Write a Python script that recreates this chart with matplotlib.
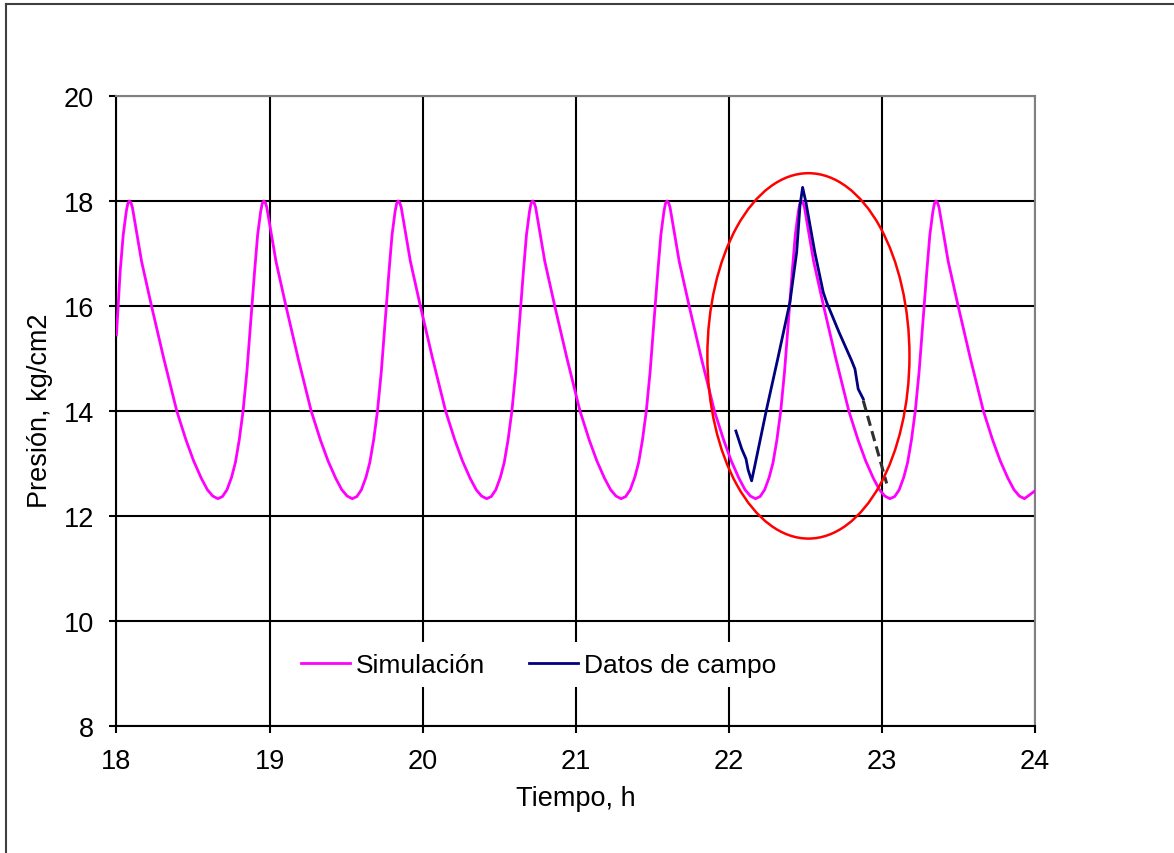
import matplotlib
matplotlib.use("Agg")
import matplotlib.pyplot as plt
from matplotlib.patches import Ellipse
from matplotlib.lines import Line2D

plt.rcParams['font.family'] = ['Liberation Sans', 'DejaVu Sans']

# Simulación (one row per cycle)
sim_t = [18.000, 18.024, 18.044, 18.064, 18.074, 18.084, 18.094, 18.104, 18.129, 18.164, 18.229, 18.309, 18.394, 18.454, 18.504, 18.554, 18.594, 18.629, 18.662,
         18.692, 18.722, 18.752, 18.777, 18.802, 18.827, 18.852, 18.877, 18.902, 18.922, 18.942, 18.952, 18.962, 18.972, 18.982, 19.007, 19.042, 19.107, 19.187, 19.272, 19.332, 19.382, 19.432, 19.472, 19.507, 19.540,
         19.570, 19.600, 19.630, 19.655, 19.680, 19.705, 19.730, 19.755, 19.780, 19.800, 19.820, 19.830, 19.840, 19.850, 19.860, 19.885, 19.920, 19.985, 20.065, 20.150, 20.210, 20.260, 20.310, 20.350, 20.385, 20.418,
         20.448, 20.478, 20.508, 20.533, 20.558, 20.583, 20.608, 20.633, 20.658, 20.678, 20.698, 20.708, 20.718, 20.728, 20.738, 20.763, 20.798, 20.863, 20.943, 21.028, 21.088, 21.138, 21.188, 21.228, 21.263, 21.296,
         21.326, 21.356, 21.386, 21.411, 21.436, 21.461, 21.486, 21.511, 21.536, 21.556, 21.576, 21.586, 21.596, 21.606, 21.616, 21.641, 21.676, 21.741, 21.821, 21.906, 21.966, 22.016, 22.066, 22.106, 22.141, 22.174,
         22.204, 22.234, 22.264, 22.289, 22.314, 22.339, 22.364, 22.389, 22.414, 22.434, 22.454, 22.464, 22.474, 22.484, 22.494, 22.519, 22.554, 22.619, 22.699, 22.784, 22.844, 22.894, 22.944, 22.984, 23.019, 23.052,
         23.083, 23.113, 23.143, 23.168, 23.193, 23.218, 23.243, 23.268, 23.293, 23.313, 23.333, 23.343, 23.353, 23.363, 23.373, 23.398, 23.433, 23.498, 23.578, 23.663, 23.723, 23.773, 23.823, 23.863, 23.898, 23.931, 24.000]
sim_p = [15.45, 16.65, 17.35, 17.80, 17.95, 18.00, 17.97, 17.88, 17.45, 16.85, 16.00, 15.00, 14.00, 13.45, 13.05, 12.72, 12.50, 12.38, 12.33,
         12.37, 12.50, 12.74, 13.02, 13.45, 14.00, 14.75, 15.70, 16.65, 17.35, 17.80, 17.95, 18.00, 17.97, 17.88, 17.45, 16.85, 16.00, 15.00, 14.00, 13.45, 13.05, 12.72, 12.50, 12.38, 12.33,
         12.37, 12.50, 12.74, 13.02, 13.45, 14.00, 14.75, 15.70, 16.65, 17.35, 17.80, 17.95, 18.00, 17.97, 17.88, 17.45, 16.85, 16.00, 15.00, 14.00, 13.45, 13.05, 12.72, 12.50, 12.38, 12.33,
         12.37, 12.50, 12.74, 13.02, 13.45, 14.00, 14.75, 15.70, 16.65, 17.35, 17.80, 17.95, 18.00, 17.97, 17.88, 17.45, 16.85, 16.00, 15.00, 14.00, 13.45, 13.05, 12.72, 12.50, 12.38, 12.33,
         12.37, 12.50, 12.74, 13.02, 13.45, 14.00, 14.75, 15.70, 16.65, 17.35, 17.80, 17.95, 18.00, 17.97, 17.88, 17.45, 16.85, 16.00, 15.00, 14.00, 13.45, 13.05, 12.72, 12.50, 12.38, 12.33,
         12.37, 12.50, 12.74, 13.02, 13.45, 14.00, 14.75, 15.70, 16.65, 17.35, 17.80, 17.95, 18.00, 17.97, 17.88, 17.45, 16.85, 16.00, 15.00, 14.00, 13.45, 13.05, 12.72, 12.50, 12.38, 12.33,
         12.37, 12.50, 12.74, 13.02, 13.45, 14.00, 14.75, 15.70, 16.65, 17.35, 17.80, 17.95, 18.00, 17.97, 17.88, 17.45, 16.85, 16.00, 15.00, 14.00, 13.45, 13.05, 12.72, 12.50, 12.38, 12.33, 12.48]

# Datos de campo
campo_t = [22.046, 22.084, 22.112, 22.126, 22.149, 22.170, 22.247, 22.320, 22.399, 22.443, 22.465, 22.482,
           22.504, 22.562, 22.617, 22.639, 22.720, 22.802, 22.824, 22.845, 22.878]
campo_p = [13.62, 13.28, 13.09, 12.88, 12.67, 12.96, 14.04, 15.00, 16.07, 17.02, 17.91, 18.26,
           17.97, 17.02, 16.26, 16.07, 15.50, 14.96, 14.80, 14.42, 14.23]

# tramo estimado (discontinuo)
est_t = [22.878, 23.031]
est_p = [14.20, 12.62]

fig = plt.figure(figsize=(11.74, 8.54), dpi=100)
ax = fig.add_axes([0.0992, 0.1487, 0.7824, 0.7377])

ax.plot(sim_t, sim_p, color='#ff00ff', lw=2.0, label='Simulación', zorder=3)
ax.plot(campo_t, campo_p, color='#000080', lw=2.0, label='Datos de campo', zorder=4)
ax.plot(est_t, est_p, color='#303030', lw=2.2, linestyle=(0, (3.4, 1.8)), zorder=4)
ax.add_patch(Ellipse((22.52, 15.05), 1.32, 6.96, fill=False, edgecolor='#ff0000', lw=1.8, zorder=5))

ax.set_xlim(18, 24)
ax.set_ylim(8, 20)
ax.set_xticks(range(18, 25))
ax.set_yticks(range(8, 21, 2))
ax.set_axisbelow(True)
ax.grid(True, color='black', lw=1.5)

for s in ['left', 'bottom']:
    ax.spines[s].set_color('black')
    ax.spines[s].set_linewidth(1.5)
for s in ['top', 'right']:
    ax.spines[s].set_color('#808080')
    ax.spines[s].set_linewidth(1.5)
    ax.spines[s].set_zorder(2.5)

ax.tick_params(axis='both', direction='out', length=5, width=1.5, labelsize=19.5, colors='black')
ax.tick_params(axis='x', pad=11)
ax.tick_params(axis='y', pad=11)

ax.set_xlabel('Tiempo, h', fontsize=19.5)
ax.set_ylabel('Presión, kg/cm2', fontsize=19.5)
ax.xaxis.set_label_coords(0.5, -0.094)
ax.yaxis.set_label_coords(-0.069, 0.502)

leg = ax.legend(loc='center', bbox_to_anchor=(0.4595, 0.097), ncol=2, fontsize=19,
                frameon=True, fancybox=False, framealpha=1, facecolor='white', edgecolor='none',
                handlelength=1.86, handletextpad=0.23, columnspacing=1.64, borderpad=0.4)
leg.set_zorder(6)

# marco del gráfico (solo arriba e izquierda visibles)
fig.add_artist(Line2D([6 / 1174, 1], [1 - 5 / 854, 1 - 5 / 854], transform=fig.transFigure, color='#404040', lw=1.5))
fig.add_artist(Line2D([6 / 1174, 6 / 1174], [0, 1 - 5 / 854], transform=fig.transFigure, color='#404040', lw=1.5))

fig.savefig('out.png', dpi=100)
